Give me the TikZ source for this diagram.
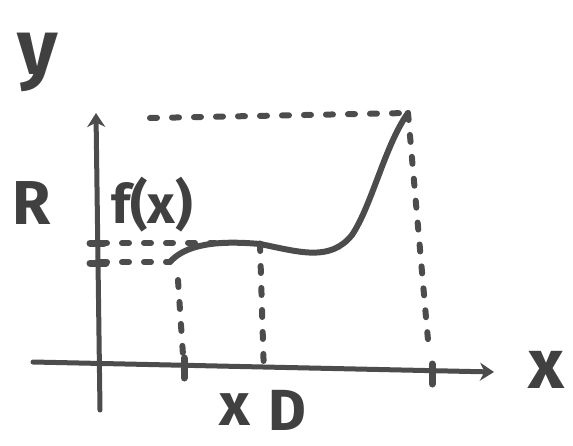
\documentclass[tikz,border=0pt]{standalone}
\usepackage{fontspec}
\setmainfont{Fira Sans}
\usetikzlibrary{arrows.meta, positioning}

\begin{document}
\begin{tikzpicture}[
    x=1pt, y=-1pt,
    >=Stealth,
    pencil/.style={draw=black!70, line width=#1, line cap=round},
    pencil/.default=4pt,
    axis/.style={pencil=5pt, ->, >={Stealth[length=14pt, width=18pt]}},
    guide/.style={pencil=6pt, dash pattern=on 7pt off 15pt},
    tick/.style={pencil=7pt},
    hand/.style={text=black!75, inner sep=0pt, font=\fontsize{#1}{#1}\selectfont\bfseries},
]
    \useasboundingbox (0,0) rectangle (573,445);

    % axes
    \coordinate (ybot) at (100,410);
    \coordinate (ytop) at (96,113);
    \coordinate (xleft) at (33,362);
    \coordinate (xright) at (494,372);
    \draw[axis] (ybot) -- (ytop);
    \draw[axis] (xleft) -- (xright);

    % points on the curve
    \coordinate (c0) at (170,262);
    \coordinate (cx) at (260,244);
    \coordinate (c1) at (408,113);

    % feet on the axes
    \coordinate (r0) at (100,262);
    \coordinate (r1) at (100,243);
    \coordinate (d0) at (184,370);
    \coordinate (dx) at (264,375);
    \coordinate (d1) at (432,376);
    \coordinate (top) at (150,118);

    % the graph
    \draw[pencil=6pt] (c0) .. controls (185,245) and (215,240) .. (cx)
        .. controls (300,252) and (330,262) .. (352,235)
        .. controls (372,205) and (385,145) .. (c1);
    \fill[black!75] (cx) circle (3.5pt);

    % guides
    \draw[guide] (r1) -- (215,243);
    \draw[guide] (r0) -- (c0);
    \draw[guide] (top) -- (c1);
    \draw[guide] (c1) -- (428,340);
    \draw[guide] (178,280) -- (d0);
    \draw[guide] (cx) -- (dx);

    % ticks
    \draw[tick] (90,243) -- (104,243);
    \draw[tick] (90,263) -- (106,263);
    \draw[tick] (d0) ++(0,-12) -- ++(0,20);
    \draw[tick] (d1) ++(0,-12) -- ++(0,20);

    % labels
    \node[hand=78pt] (ylabel) at (38,62) {y};
    \node[hand=62pt] (rlabel) at (32,203) {R};
    \node[hand=54pt] (flabel) at (152,205) {f(x)};
    \node[hand=70pt] (xlabel) at (546,370) {x};
    \node[hand=60pt] (xdom) at (235,410) {x};
    \node[hand=58pt, right=18pt of xdom.east] (dlabel) {D};
\end{tikzpicture}
\end{document}
